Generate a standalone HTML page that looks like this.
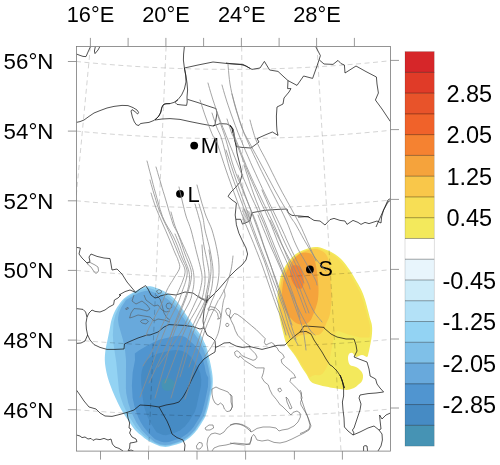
<!DOCTYPE html>
<html><head><meta charset="utf-8"><title>Map</title>
<style>
html,body{margin:0;padding:0;background:#fff;}
body{width:500px;height:465px;overflow:hidden;}
svg{display:block;}
text{font-family:"Liberation Sans",sans-serif;fill:#000;}
</style></head><body>
<svg width="500" height="465" viewBox="0 0 500 465">
<rect width="500" height="465" fill="#fff"/>
<defs><clipPath id="fc"><rect x="76.4" y="46.4" width="314.1" height="404.7"/></clipPath></defs>
<g clip-path="url(#fc)">
<path d="M148 286.3 L149.34 286.24 L150.56 286.32 L151.75 286.52 L153 286.8 L154.34 287.18 L155.72 287.68 L157.11 288.23 L158.5 288.8 L159.88 289.37 L161.25 289.97 L162.62 290.61 L164 291.3 L165.39 292.04 L166.78 292.83 L168.16 293.68 L169.5 294.6 L170.8 295.61 L172.08 296.71 L173.32 297.85 L174.5 299 L175.62 300.16 L176.68 301.35 L177.7 302.56 L178.7 303.8 L179.69 305.06 L180.64 306.36 L181.58 307.67 L182.5 309 L183.4 310.37 L184.27 311.76 L185.13 313.15 L186 314.5 L186.87 315.77 L187.73 317 L188.6 318.23 L189.5 319.5 L190.43 320.85 L191.39 322.25 L192.35 323.65 L193.3 325 L194.23 326.29 L195.16 327.53 L196.08 328.76 L197 330 L197.92 331.24 L198.85 332.47 L199.75 333.71 L200.6 335 L201.38 336.34 L202.12 337.72 L202.82 339.11 L203.5 340.5 L204.17 341.88 L204.82 343.25 L205.44 344.62 L206 346 L206.49 347.38 L206.93 348.75 L207.33 350.12 L207.7 351.5 L208.03 352.88 L208.32 354.25 L208.6 355.62 L208.9 357 L209.22 358.38 L209.56 359.75 L209.89 361.12 L210.2 362.5 L210.49 363.86 L210.77 365.22 L211.04 366.59 L211.3 368 L211.57 369.46 L211.84 370.97 L212.09 372.49 L212.3 374 L212.48 375.5 L212.63 377 L212.74 378.5 L212.8 380 L212.81 381.52 L212.78 383.06 L212.71 384.57 L212.6 386 L212.45 387.32 L212.26 388.56 L212.04 389.77 L211.8 391 L211.53 392.22 L211.23 393.43 L210.91 394.67 L210.6 396 L210.31 397.44 L210.04 398.96 L209.74 400.54 L209.4 402.2 L209.01 403.95 L208.58 405.79 L208.11 407.66 L207.6 409.5 L207.08 411.31 L206.55 413.11 L205.94 414.9 L205.2 416.7 L204.29 418.5 L203.26 420.3 L202.14 422.1 L201 423.9 L199.85 425.73 L198.66 427.57 L197.42 429.38 L196.1 431.1 L194.71 432.73 L193.24 434.3 L191.71 435.79 L190.1 437.2 L188.41 438.53 L186.65 439.79 L184.81 440.96 L182.9 442 L180.86 442.9 L178.71 443.69 L176.55 444.38 L174.5 445 L172.6 445.59 L170.77 446.12 L168.99 446.55 L167.2 446.8 L165.39 446.88 L163.58 446.8 L161.78 446.58 L160 446.2 L158.21 445.62 L156.43 444.86 L154.67 444.02 L153 443.2 L151.41 442.43 L149.88 441.66 L148.41 440.86 L147 440 L145.73 439.1 L144.56 438.18 L143.37 437.16 L142 436 L140.39 434.73 L138.62 433.38 L136.8 431.83 L135 430 L133.24 427.78 L131.47 425.25 L129.71 422.59 L128 420 L126.3 417.5 L124.62 415 L123.01 412.5 L121.5 410 L120.12 407.48 L118.84 404.94 L117.64 402.43 L116.5 400 L115.43 397.73 L114.44 395.56 L113.48 393.37 L112.5 391 L111.46 388.37 L110.41 385.56 L109.39 382.73 L108.5 380 L107.74 377.43 L107.08 374.94 L106.5 372.48 L106 370 L105.56 367.5 L105.2 365 L104.94 362.5 L104.8 360 L104.81 357.5 L104.95 355 L105.19 352.5 L105.5 350 L105.91 347.5 L106.42 345 L106.97 342.5 L107.5 340 L108 337.5 L108.5 335 L109 332.5 L109.5 330 L109.95 327.5 L110.38 325 L110.86 322.5 L111.5 320 L112.29 317.5 L113.19 315 L114.24 312.5 L115.5 310 L117.07 307.37 L118.91 304.66 L120.79 302.11 L122.5 300 L123.95 298.48 L125.25 297.38 L126.55 296.46 L128 295.5 L129.66 294.45 L131.44 293.44 L133.25 292.45 L135 291.5 L136.66 290.55 L138.28 289.61 L139.89 288.74 L141.5 288 L143.16 287.4 L144.84 286.9 L146.48 286.53 Z" fill="#93d3f3"/>
<path d="M124.75 299.12 L118.83 307.5 L115.41 315 L113.55 322.5 L112.84 335 L113.27 342.5 L116.29 362.5 L119 391 L120.73 397.73 L123.31 404.94 L128.06 415 L135.9 427.5 L143.22 435 L151.35 441.28 L158.56 444.68 L161.95 445.59 L165.39 445.88 L170.51 445.15 L180.49 441.97 L184.3 440.1 L187.81 437.73 L191.03 435.06 L195.32 430.47 L203.41 418.03 L205 414.55 L207.14 407.4 L211.06 389.58 L211.8 382 L211.3 376 L209.77 367.22 L206.7 353.5 L205 348 L199.6 337 L191.35 325.65 L178.69 307.06 L172.32 299.85 L168.5 296.6 L165.78 294.83 L160.25 291.97 L153.34 289.18 L149.56 288.32 L147 288.3 L142.16 289.4 L138.89 290.74 L128.66 296.45 Z" fill="#7fc0e8"/>
<path d="M126 300 L121.12 307.5 L119.12 312.5 L118.12 317.5 L118 320 L118.69 325 L123 340 L125 350 L126 360 L125.89 388.37 L126.23 393.37 L128.11 402.43 L131.47 412.5 L136.39 422.5 L141.5 430 L148.96 437.5 L154.96 442.16 L160.47 444.46 L165.39 445.08 L170.31 444.38 L180.19 441.23 L183.9 439.41 L187.33 437.09 L190.49 434.47 L194.7 429.97 L202.7 417.65 L204.25 414.27 L206.37 407.2 L210.48 388.26 L210.74 383 L210.09 376.99 L208.49 368.36 L205.7 356 L204 350.5 L198.6 339.5 L190.35 328.15 L177.69 309.56 L171.32 302.35 L167.5 299.1 L164.78 297.33 L159.25 294.47 L152.34 291.68 L148.56 290.82 L146 290.8 L141.16 291.9 L137.89 293.24 Z" fill="#68a9dc"/>
<path d="M155.11 439.22 L161.17 441.85 L163.95 442.31 L166.79 442.31 L169.62 441.77 L180.91 437.96 L187.22 433.74 L191.35 429.73 L193.78 426.74 L200.33 416.37 L202.26 411.75 L205 401.26 L207.99 386.72 L208.25 378.75 L208.12 377.14 L206.85 375.21 L205.59 371.58 L204.6 365.8 L202 357 L198.5 350 L194.16 344.68 L186.88 338.15 L185 337 L181.66 335.86 L175.66 335.93 L160 339.5 L153.2 342.42 L146.88 345.72 L139.28 350.22 L134.82 353.52 L135 360 L132.66 372.48 L131.88 385.56 L132.62 397.73 L134.73 407.48 L138.29 417.5 L140.87 422.5 L144.07 427.5 L148.16 432.5 L153.14 437.5 Z" fill="#5095d0"/>
<path d="M156.7 432.21 L162.98 435.08 L166.15 435.34 L174.98 432.81 L180.21 430.26 L185.03 426.25 L189.09 421.2 L194.73 411.91 L196.53 406.38 L201.05 385.8 L201.26 379.15 L200.42 373.62 L198.07 368.16 L193.64 360.66 L191 357 L186.59 352.98 L181.65 350.64 L176.07 349.94 L169.6 350.7 L158 353.5 L151.34 356.35 L147 360 L145.09 362.5 L143.75 365 L142 370 L141.12 374.94 L141.11 382.73 L142.68 397.73 L144.34 407.48 L146.75 415 L150.29 422.5 L155 430 Z" fill="#468bc4"/>
<path d="M162 381 L162.7 380.06 L163.69 379.34 L164.84 378.83 L166 378.5 L167.21 378.34 L168.53 378.38 L169.83 378.59 L171 379 L172.07 379.64 L173.09 380.5 L173.94 381.48 L174.5 382.5 L174.74 383.58 L174.72 384.75 L174.46 385.92 L174 387 L173.27 388.03 L172.28 389.03 L171.15 389.89 L170 390.5 L168.77 390.83 L167.44 390.94 L166.13 390.83 L165 390.5 L164.04 389.93 L163.19 389.12 L162.49 388.13 L162 387 L161.7 385.59 L161.56 383.94 L161.65 382.31 Z" fill="#4693b4"/>
<path d="M315.3 247 L317.8 247.11 L320.12 247.58 L322.4 248.31 L324.8 249.2 L327.45 250.28 L330.24 251.59 L332.96 253.03 L335.4 254.5 L337.48 255.96 L339.32 257.47 L341.02 259.07 L342.7 260.8 L344.37 262.71 L345.98 264.76 L347.52 266.88 L349 269 L350.4 271.1 L351.74 273.23 L353.03 275.37 L354.3 277.5 L355.6 279.7 L356.91 281.94 L358.13 284.09 L359.2 286 L360.04 287.52 L360.72 288.78 L361.34 290.01 L362 291.5 L362.75 293.34 L363.53 295.37 L364.29 297.49 L365 299.6 L365.62 301.65 L366.18 303.7 L366.73 305.8 L367.3 308 L367.92 310.37 L368.56 312.86 L369.19 315.34 L369.8 317.7 L370.43 319.84 L371.07 321.84 L371.63 323.85 L372 326 L372.16 328.34 L372.15 330.78 L372.02 333.29 L371.8 335.8 L371.46 338.4 L370.98 341.08 L370.47 343.67 L370 346 L369.6 348.05 L369.23 349.89 L368.87 351.54 L368.5 353 L368.21 354.35 L367.97 355.56 L367.62 356.49 L367 357 L366.02 356.83 L364.78 356.12 L363.4 355.36 L362 355 L360.51 355.36 L358.91 356.12 L357.35 356.83 L356 357 L354.95 356.3 L354.09 355.06 L353.32 353.79 L352.5 353 L351.57 352.8 L350.59 352.94 L349.7 353.35 L349 354 L348.5 354.95 L348.16 356.19 L347.98 357.59 L348 359 L348.2 360.52 L348.56 362.19 L349.15 363.76 L350 365 L351.24 365.73 L352.81 366.12 L354.48 366.45 L356 367 L357.39 367.85 L358.75 368.84 L359.98 369.92 L361 371 L361.78 372.07 L362.38 373.16 L362.78 374.29 L363 375.5 L363.03 376.84 L362.88 378.28 L362.53 379.71 L362 381 L361.21 382.13 L360.19 383.16 L359.07 384.11 L358 385 L357.05 385.85 L356.12 386.64 L355.14 387.36 L354 388 L352.64 388.59 L351.12 389.11 L349.55 389.53 L348 389.8 L346.57 389.88 L345.18 389.8 L343.7 389.62 L342 389.4 L339.94 389.12 L337.61 388.75 L335.28 388.36 L333.2 388 L331.46 387.69 L329.92 387.39 L328.47 387.1 L327 386.8 L325.51 386.52 L324.05 386.26 L322.57 385.97 L321 385.6 L319.24 385.12 L317.36 384.57 L315.54 383.99 L314 383.4 L312.84 382.9 L311.94 382.45 L311.14 381.87 L310.3 381 L309.42 379.74 L308.57 378.21 L307.68 376.52 L306.7 374.8 L305.59 373.08 L304.38 371.29 L303.14 369.44 L301.9 367.5 L300.68 365.43 L299.45 363.24 L298.22 361.05 L297 359 L295.79 357.1 L294.59 355.3 L293.4 353.57 L292.2 351.9 L290.94 350.3 L289.65 348.77 L288.43 347.28 L287.4 345.8 L286.62 344.36 L286.01 342.96 L285.5 341.53 L285 340 L284.51 338.36 L284.07 336.64 L283.65 334.85 L283.2 333 L282.71 331.09 L282.2 329.12 L281.69 327.09 L281.2 325 L280.73 322.87 L280.26 320.69 L279.82 318.41 L279.4 316 L279 313.34 L278.62 310.5 L278.28 307.66 L278 305 L277.77 302.61 L277.59 300.38 L277.49 298.2 L277.5 296 L277.65 293.75 L277.91 291.5 L278.25 289.25 L278.6 287 L278.95 284.74 L279.32 282.47 L279.76 280.21 L280.3 278 L280.95 275.84 L281.68 273.72 L282.52 271.61 L283.5 269.5 L284.65 267.33 L285.95 265.12 L287.35 262.98 L288.8 261 L290.28 259.21 L291.81 257.56 L293.43 256.02 L295.2 254.6 L297.08 253.29 L299.07 252.09 L301.22 251 L303.6 250 L306.34 249.02 L309.38 248.07 L312.45 247.35 Z" fill="#f3e95c"/>
<path d="M309.67 249.13 L301.68 252 L295.86 255.48 L291.11 259.94 L286.88 265.7 L283.53 272.05 L281.36 278.29 L279 291.65 L278.59 298.18 L279.37 307.54 L280.9 318.21 L285.14 336.38 L287.03 342.56 L288.34 345.22 L296.72 356.51 L309.49 377.6 L313 375.5 L315.14 375.11 L319.23 375.24 L321 374.8 L322.49 373.74 L324.92 370.6 L327.04 366.52 L328.86 361.5 L330.18 356.59 L333.69 337.72 L335.17 333.68 L336.64 331.42 L338 331 L339.99 331.38 L348 334.6 L360 337.6 L369.63 337.58 L370.16 328.84 L369.63 324.35 L363.62 302.15 L360 292 L351.03 275.87 L343.98 265.26 L337.32 257.97 L333.4 255 L328.24 252.09 L320.69 248.92 L317.67 248.21 L315.34 248.1 Z" fill="#f7de55"/>
<path d="M303 252 L305.54 251.06 L308.44 250.12 L311.37 249.38 L314 249 L316.28 249.08 L318.38 249.5 L320.28 250.17 L322 251 L323.52 251.95 L324.84 253.06 L326 254.4 L327 256 L327.84 257.83 L328.5 259.88 L329.04 262.23 L329.5 265 L329.86 268.33 L330.09 272.12 L330.29 276.11 L330.5 280 L330.79 283.84 L331.09 287.75 L331.36 291.53 L331.5 295 L331.5 298.05 L331.41 300.81 L331.23 303.41 L331 306 L330.74 308.62 L330.44 311.19 L330.04 313.66 L329.5 316 L328.75 318.16 L327.84 320.19 L326.89 322.12 L326 324 L325.26 325.89 L324.59 327.75 L323.88 329.48 L323 331 L321.96 332.33 L320.81 333.5 L319.51 334.42 L318 335 L316.26 335.04 L314.31 334.66 L312.21 334.19 L310 334 L307.55 334.16 L304.88 334.5 L302.27 334.96 L300 335.5 L298.21 336.29 L296.72 337.28 L295.37 338.14 L294 338.5 L292.55 338.25 L291.12 337.59 L289.76 336.64 L288.5 335.5 L287.35 334.11 L286.29 332.44 L285.33 330.67 L284.5 329 L283.83 327.51 L283.3 326.09 L282.85 324.63 L282.4 323 L281.95 321.19 L281.53 319.25 L281.15 317.19 L280.8 315 L280.5 312.62 L280.23 310.06 L280 307.48 L279.8 305 L279.6 302.67 L279.43 300.41 L279.31 298.19 L279.3 296 L279.43 293.85 L279.66 291.75 L279.97 289.65 L280.3 287.5 L280.65 285.27 L281.03 283 L281.47 280.73 L282 278.5 L282.61 276.33 L283.29 274.19 L284.08 272.08 L285 270 L286.09 267.92 L287.31 265.84 L288.63 263.85 L290 262 L291.41 260.31 L292.88 258.75 L294.41 257.31 L296 256 L297.59 254.84 L299.19 253.81 L300.95 252.88 Z" fill="#f9c74a"/>
<path d="M301.6 253 L303.33 252.72 L305.34 252.62 L307.32 252.72 L309 253 L310.27 253.44 L311.31 254.05 L312.19 254.88 L313 256 L313.74 257.38 L314.38 259 L314.95 260.92 L315.5 263.2 L316.04 265.97 L316.54 269.16 L317 272.52 L317.4 275.8 L317.77 279.02 L318.1 282.28 L318.36 285.48 L318.5 288.5 L318.52 291.34 L318.44 294.04 L318.27 296.6 L318 299 L317.63 301.18 L317.16 303.16 L316.61 305.06 L316 307 L315.32 309.05 L314.56 311.12 L313.77 313.14 L313 315 L312.32 316.7 L311.69 318.28 L310.96 319.72 L310 321 L308.75 322.16 L307.28 323.2 L305.68 324.01 L304 324.5 L302.2 324.63 L300.25 324.45 L298.3 324 L296.5 323.3 L294.87 322.3 L293.34 321.01 L291.89 319.54 L290.5 318 L289.12 316.39 L287.78 314.67 L286.55 312.86 L285.5 311 L284.66 309.07 L284 307.06 L283.46 305.02 L283 303 L282.61 301 L282.31 299 L282.11 297 L282 295 L282 293.02 L282.09 291.06 L282.27 289.07 L282.5 287 L282.76 284.81 L283.06 282.53 L283.46 280.24 L284 278 L284.7 275.84 L285.53 273.72 L286.47 271.61 L287.5 269.5 L288.66 267.29 L289.94 265.03 L291.25 262.88 L292.5 261 L293.66 259.46 L294.78 258.16 L295.88 257.03 L297 256 L298.08 255.04 L299.12 254.19 L300.25 253.49 Z" fill="#f5a33c"/>
<path d="M293.2 265.3 L294.56 265.13 L296.29 265.19 L298.05 265.59 L299.5 266.4 L300.57 267.76 L301.43 269.59 L302.13 271.65 L302.7 273.7 L303.18 275.79 L303.53 278.01 L303.72 280.2 L303.7 282.2 L303.47 284.1 L303.04 285.95 L302.42 287.5 L301.6 288.5 L300.5 288.87 L299.14 288.74 L297.71 288.21 L296.4 287.4 L295.21 286.22 L294.06 284.64 L293 282.87 L292.1 281.1 L291.35 279.28 L290.72 277.33 L290.26 275.42 L290 273.7 L290 272.2 L290.23 270.84 L290.59 269.61 L291 268.5 L291.37 267.46 L291.77 266.51 L292.33 265.75 Z" fill="#f58231"/>
<g fill="none" stroke="#000" stroke-opacity="0.22" stroke-width="0.8" stroke-dasharray="5 3.5">
<path d="M90.4 46.5 L52.0818 451"/>
<path d="M166.1 46.5 L148.605 451"/>
<path d="M241.7 46.5 L245.001 451"/>
<path d="M317 46.5 L341.014 451"/>
<path d="M76 61.45 L91 62.92 L106 64.25 L121 65.42 L136 66.44 L151 67.3 L166 68.02 L181 68.58 L196 69 L211 69.26 L226 69.37 L241 69.34 L256 69.15 L271 68.81 L286 68.32 L301 67.68 L316 66.88 L331 65.94 L346 64.84 L361 63.6 L376 62.2 L391 60.64"/>
<path d="M76 131.05 L91 132.46 L106 133.72 L121 134.84 L136 135.82 L151 136.64 L166 137.33 L181 137.87 L196 138.26 L211 138.52 L226 138.62 L241 138.59 L256 138.41 L271 138.08 L286 137.61 L301 137 L316 136.24 L331 135.34 L346 134.29 L361 133.1 L376 131.76 L391 130.28"/>
<path d="M76 200.75 L91 202.1 L106 203.31 L121 204.38 L136 205.31 L151 206.11 L166 206.76 L181 207.28 L196 207.66 L211 207.9 L226 208 L241 207.97 L256 207.79 L271 207.48 L286 207.04 L301 206.45 L316 205.72 L331 204.86 L346 203.86 L361 202.72 L376 201.44 L391 200.02"/>
<path d="M76 270.35 L91 271.65 L106 272.81 L121 273.84 L136 274.73 L151 275.49 L166 276.12 L181 276.61 L196 276.98 L211 277.21 L226 277.31 L241 277.27 L256 277.11 L271 276.81 L286 276.38 L301 275.82 L316 275.12 L331 274.29 L346 273.33 L361 272.24 L376 271.01 L391 269.65"/>
<path d="M76 340.06 L91 341.3 L106 342.41 L121 343.4 L136 344.26 L151 344.99 L166 345.59 L181 346.07 L196 346.42 L211 346.64 L226 346.74 L241 346.7 L256 346.54 L271 346.26 L286 345.84 L301 345.3 L316 344.64 L331 343.84 L346 342.92 L361 341.87 L376 340.69 L391 339.38"/>
<path d="M76 409.66 L91 410.85 L106 411.93 L121 412.88 L136 413.7 L151 414.4 L166 414.99 L181 415.44 L196 415.78 L211 415.99 L226 416.08 L241 416.05 L256 415.9 L271 415.63 L286 415.23 L301 414.71 L316 414.06 L331 413.3 L346 412.41 L361 411.4 L376 410.26 L391 409.01"/>
</g>
<g fill="none" stroke="#555" stroke-width="0.6" stroke-linejoin="round">
<path d="M87 263 L90 262.4 L95 265 L98 267 L98.6 271 L96 273.6 L93.6 271 L91 267 L88.4 265 Z"/>
<path d="M134 295 L132 301 L136 304 L142 301 L147 305 L150 309 L147 311 L140 309 L134 308.6 L131 313 L129.6 318 L133 317 L138 315 L144 316 L150 317 L154 321 L158 319 L164 320 L170 322"/>
<path d="M142 320 L146 319.4 L148.4 321.4 L146 324 L142 323 L140.4 321.4 Z"/>
<path d="M125.6 308.6 L128 307.4 L128.4 308.6 L126 309.6 Z"/>
<path d="M144 295 L146 300 L150 303 L154 306 L158 305 L162 310 L166 312 L170 311"/>
<path d="M166 306 L167 303.6 L169.4 303 L171.6 304.6 L171.6 307.4 L169.6 309 L167.2 308.4 Z"/>
<path d="M156 295 L160 299 L162 305 L164 313 L167 318 L170 320"/>
<path d="M212 389 L216 387 L220 389 L224 390.4 L228 392 L231 396 L231 402 L232.4 407 L230 411 L227 411.6 L224.4 409 L223 405 L220.4 403 L218 405 L215 403 L213 399 L212 394 Z"/>
<path d="M205 428 L209 425 L213 425 L213.6 428 L210 430 L206 430 Z"/>
<path d="M196.4 446 L199 442.4 L202 443 L202.4 446 L200 449 L197 449 Z"/>
<path d="M208 451 L207 444 L208 438 L211 434 L215 433 L220 434.4 L224 432 L227 428 L231 425 L236 423.6 L242 424.4 L247 427 L250 429 L251 432"/>
<path d="M212 451 L214 448 L219 446 L226 445 L234 443 L242 443.6 L250 444.4 L251.6 437"/>
<path d="M286 397 L288 399 L292 408 L290 409 L287 402 Z"/>
<path d="M230 394 L232 396 L232.4 406 L231 410 L230 411"/>
<path d="M300 390 L301.6 393 L301 398 L303 404 L305 410 L308 418 L310 425 L309 429 L304 432 L300 433.6"/>
<path d="M156.4 291 L159 289.6 L161.6 291 L161 293 L158 293.6 Z"/>
<path d="M229.19 315.97 L227.26 315.16 L225.65 311.13 L226.45 308.71 L228.87 308.23 L230.48 310.32 L230.16 313.55 L229.19 315.97 L230.81 318.39 L232.9 315.16 L234.52 313.55 L237.26 314.35 L241.77 317.58 L246.61 321.61 L251.45 325.65 L256.29 329.68 L261.13 334.52 L265.16 338.55 L264.35 342.58 L265.97 345 L269.19 343.39 L271.61 342.58 L274.03 344.19 L274.68 346.13 L277.1 347.74 L278.71 350.97 L282.74 354.19 L284.35 357.42 L281.13 359.84 L281.94 363.06 L285.16 366.29 L290 370.32 L294.03 374.35 L295.65 377.58 L290.81 378.39 L290 381.61 L293.23 384.84 L297.26 388.87 L300.48 392.9 L302.1 397.74 L300.48 402.58 L301 405 L304 410 L307 415 L309 420 L311 426 L309 430 L304 433 L298 436 L292 439 L286 441.6 L280 443 L274 442.4 L268 440 L262 441 L257 440 L255 436 L253.6 434.4 L251.6 437 L251 441 L249 444 L244 445 L238 444.4 L230 443"/>
<path d="M229.19 315.97 L231.29 320.81 L233.71 325.65 L235.32 330.48 L237.74 335.32 L240.97 338.55 L244.19 341.77 L247.42 344.19 L249.84 345.81"/>
<path d="M249.84 345.81 L249.84 348.23 L252.26 350.65 L255.48 353.87 L257.1 357.1 L255.48 359.52 L253.06 360.32 L249.03 358.71 L245 357.1 L241.77 355.48 L239.35 352.26 L236.94 350.65 L234.52 352.26 L235.32 355.48 L238.55 357.9 L240 355.81 L244.84 360.65 L251.29 364.68 L256.13 367.9 L260.16 367.9 L264.19 367.9 L263.39 372.74 L261.77 377.58 L264.19 381.61 L268.23 384.84 L269.84 389.68 L272.26 394.52 L276.29 399.35 L280.32 405 L282 406 L285 409 L288 412 L291 415 L293 412.4 L297 411 L300 413 L300.4 417 L298 422 L294 426 L288 429 L282 430 L279 431 L276 428 L270 427 L263 427 L257 428.4 L253 431 L251 432 L248 429 L244 426 L239 424 L234 423.6 L230 425"/>
<path d="M225.65 324.84 L226.45 323.39 L228.06 323.39 L229.03 324.84 L228.06 326.45 L226.45 326.45 Z"/>
<path d="M207.9 308.71 L210.32 306.61 L215.16 307.58 L219.19 311.13 L220.81 315.16 L220 318.39 L217.58 319.19 L218.39 317.58 L217.58 313.55 L215.16 310.32 L211.94 309.19 L208.71 310.32 Z"/>
<path d="M198.23 295 L201.45 298.23 L207.1 299.84 L211.13 296.61 L212.74 295"/>
<path d="M277.9 388.87 L280.32 388.06 L281.61 390.48 L280 392.1 L278.39 390.97 Z"/>
</g>
<g fill="none" stroke="#1a1a1a" stroke-width="0.75" stroke-linejoin="round">
<path d="M76.4 54 L80 55.4 L83 56.4 L86 56.6 L88 52 L90 47.6 L90.6 46.4"/>
<path d="M95.4 46.4 L94.4 51 L95 53.6 L98 50 L100 46.4"/>
<path d="M76.4 122.4 L80 121.6 L84 120 L89 116.4 L94 113 L100 110.6 L107 108 L114 106.4 L122 105.4 L128 105.6 L133 107.6 L137 110 L138.6 112.4 L137.6 114 L135 111.6 L132 109.6 L131 111 L132.4 117 L134.4 122 L136.6 125 L139 125.4 L140.4 123.6 L144 123 L149 122.4 L154 120.4 L158 117 L160.4 113 L161.6 108 L163 105 L166 103.6 L170 103.6"/>
<path d="M184.4 46.4 L183.6 54 L183.4 60 L184.4 68 L185.6 75 L186 82 L184.4 89 L181.6 95 L178 99.6 L174 102.4 L170 103.6 L164 104 L162 107 L161 112 L159 116 L155 120"/>
<path d="M184.4 68 L186 76 L187 83 L187.6 90 L187 97 L187.2 102 L186.6 105.4 L182 105 L177 104.4 L175 102.4 L178 99.6"/>
<path d="M184.4 68 L198 65 L213 62 L228 63.6 L241 64.6 L246 66 L250 68.4"/>
<path d="M187.6 99.4 L198 102.6 L208 106 L216 108.6 L217 113 L216 119 L215 125 L213 126"/>
<path d="M155 120 L162 119 L170 118.6 L180 119.4 L190 121.6 L202 124 L213 126 L220 123.6 L227 124 L231 126 L233 129 L232 133"/>
<path d="M226 63 L230 63.6 L236 64 L243 64.4 L252 69.4 L260 68 L264.4 61.4 L269.6 70 L278 71.4 L284 77 L288 80.6 L297 85.4 L303.6 76 L312.6 78.4 L317 66 L319 60 L320.4 55.6 L318 51 L315.6 46.4"/>
<path d="M288 80.6 L287.6 88.6 L291 88.6 L289 92 L284 98 L283 104 L277 107 L276.4 116 L276.6 125"/>
<path d="M319.4 60 L324 64 L333 64.4 L338 60.4 L341 63.6 L344.4 65 L345 73 L356 66 L366 71.6 L376.4 77 L377 84 L378.4 93 L375.4 100 L382 109 L390.4 121.6"/>
<path d="M276.6 125 L277 131 L278 135.4 L272.4 132 L266 134.6 L257 138.6 L259 142 L251 148 L242 147.4 L236.4 146.6 L235 141 L234 133 L233 129 L230 126"/>
<path d="M230 125 L232 129 L233.6 135 L235 141 L236 145 L237 153 L239 161 L241 169 L242 175 L240 182 L236 187 L231 192 L228 196.4 L232 200 L236.4 203 L235.8 209 L235.2 215 L235.8 219.3 L236.4 224.8 L238.9 233.2 L242 240 L246 248 L247.6 254 L246 260 L242 265 L236 270 L230 276 L224 283 L218 290 L212 296 L208 300 L206 303"/>
<path d="M235.8 219.3 L240.7 219.3 L242.5 224.2 L249.7 221.1 L252.1 212.7 L264.8 210.3 L278 209.4 L287 209 L288.4 213 L292 215.4 L300 216 L309 217 L310 218"/>
<path d="M298 217 L300 217 L308 216.6 L314 220.4 L320 221 L325 225 L330 219.6 L334 218.4 L340 220.4 L345 221 L347 224.4 L353 220.4 L358 222.4 L361 224.4 L365 222.4 L369 223.6 L377 221 L381 223 L381.6 217 L383.6 210 L388 202 L390.4 200.4"/>
<path d="M76.4 247.4 L80.4 248 L79 254 L82 258 L87 263 L90 261.6 L89 257 L91 254 L97 256.4 L104 258 L110 258.6 L111 264 L112 270 L117 269 L122 274 L127 282 L132 288 L135.6 292.4"/>
<path d="M135.6 292.4 L140 289 L145.6 285.6 L148 289 L151 295 L155 298 L159 297 L160 296 L168 294 L176 295 L185 292 L193 293 L200 298 L206 301 L208 300"/>
<path d="M135.6 292.4 L130 290 L125 291.6 L119 295 L121 295 L118 298 L114.4 300 L113.6 304.6 L109 307 L105 310 L100 312 L95 311.4 L92 310 L89 313 L87 317 L86 323 L86.4 329 L87.6 335 L90 340 L94 344.6 L100 347.4 L107 349.4 L115 349.4 L124 349 L124.4 344 L130 341.4 L138 338 L147 335 L150 335 L158 332 L164 327 L169 324.6 L176 325 L184 325.4 L193 326.6 L200 329 L204 328"/>
<path d="M76.4 308.6 L83 309.4 L85.6 312 L87 317"/>
<path d="M87.6 335 L85 341 L81 343 L76.4 343.4"/>
<path d="M208 295 L206 303 L204 311 L203 321 L204 328 L207 335 L212 338 L215 341 L215.6 347 L215 352 L210 355 L204 359 L199 365 L195 373 L191 381 L188 388 L187 390 L183 397 L179 402 L174 403.6 L166 405 L159 407"/>
<path d="M215.6 347.4 L219 346 L224 343 L230 342.6 L230 343 L236 346 L242 347.4 L250 346.6 L256 348 L262 349.4 L270 347.4 L277 345.4 L285 345 L290 340 L296 335 L300 332 L304 326 L314 326.6 L324 327.4 L324 328 L331 334 L337 337 L346 339 L354 339 L356 345 L357 351 L354 357 L360 359.4 L367 362 L369 369 L370 375 L370 376 L375.6 379 L377 384 L380 388 L383.6 392 L376 393 L368 393.6 L360 395 L359 398 L361 404 L360 410 L358 416 L356 422 L354 428 L352.4 430 L354 433 L353 435 L360 432 L368 428 L374 426 L379 430 L381 429 L380 420 L379.6 415 L382 419 L386 415 L390.4 413"/>
<path d="M300 332 L306 331.4 L311 334 L314 340 L318 346 L322 352 L326 359 L330 365 L332 366 L337 371 L341 377 L343 383 L344.4 388 L340 375 L342.4 381 L343.6 388 L343.6 396 L342.4 402 L343 410 L344 418 L344.4 427 L348 431 L353 435"/>
<path d="M379 430 L382 434 L382.4 440 L381 446 L378 451"/>
<path d="M363.6 451 L363.6 446.4 L365 445.6 L367 446 L367.6 451"/>
<path d="M76.4 390 L80 395 L84 401 L89 407 L96 409 L100 413 L105 416 L112 416.4 L120 414.4 L127 412.4 L134 410 L140 405 L150 405.6 L159 407 L159 407"/>
<path d="M159 407 L163 414 L167 421 L170 428 L172 434 L177 437.6 L183 440 L185 445 L184.4 451"/>
<path d="M127 412.4 L128 418 L129.6 423 L129 428 L131 429 L129.6 433 L132 437 L136 439 L137 441.6 L134 442.4 L130 443 L129.6 448 L128 451"/>
<path d="M76.4 435 L80 436 L82 437.6 L85 437 L88 439 L91 438.4 L93 440.4 L96 439 L100 439.6 L104 438.4 L108 440 L111 439 L112.4 444 L115 447 L119 448.4 L123 451"/>
<path d="M128 451 L131 450 L133.6 451"/>
<path d="M390.4 198.6 L388 200 L380 218 L376 227"/>
</g>
</g>
<circle cx="194.2" cy="145.6" r="3.9" fill="#000"/>
<text x="200.8" y="153.4" font-size="22">M</text>
<circle cx="180" cy="193.8" r="3.9" fill="#000"/>
<text x="187.5" y="202.2" font-size="22">L</text>
<circle cx="309.9" cy="269.4" r="3.9" fill="#000"/>
<text x="318.2" y="275.8" font-size="22">S</text>
<g fill="none" stroke="#777" stroke-width="0.5" clip-path="url(#fc)">
<path d="M242.32 208.03 L242.47 207.59"/>
<path d="M242.49 212.02 L243.75 208.24"/>
<path d="M242.66 216.02 L245.03 208.9"/>
<path d="M242.83 220.01 L246.32 209.55"/>
<path d="M243 224 L247.6 210.2"/>
<path d="M244.75 223.24 L248.88 210.86"/>
<path d="M246.51 222.48 L250.16 211.51"/>
<path d="M248.26 221.72 L251.44 212.17"/>
</g>
<g fill="none" stroke="#8e8e8e" stroke-width="0.8" stroke-linejoin="round" stroke-linecap="round" clip-path="url(#fc)">
<path d="M200 100 L200.8 102.4 L201.9 105.9 L203.2 109.9 L204.6 114.1 L206 118 L207.4 121.8 L208.9 125.9 L210.4 129.8 L211.8 133.3 L213 136 L213.7 137.3 L214.2 137.4 L214.5 137.2 L215 137.8 L216 140 L217.6 144.4 L219.5 150.2 L221.7 156.9 L223.9 163.7 L226 170 L228 175.8 L230.1 181.6 L232.1 187.3 L234.1 192.8 L236 198 L237.8 203 L239.5 207.8 L241.2 212.4 L242.7 216.5 L244 220 L245 222.7 L245.7 224.5 L246.4 226.1 L247.1 227.7 L248 230 L249.2 232.9 L250.6 236.2 L252.1 239.8 L253.6 243.4 L255 247 L256.4 250.5 L257.8 254 L259.2 257.6 L260.6 261.3 L262 265 L263.4 268.9 L264.8 272.9 L266.2 276.9 L267.6 281 L269 285 L270.4 289.1 L271.9 293.3 L273.3 297.5 L274.7 301.4 L276 305 L277.1 308 L278.1 310.5 L279.1 312.8 L280 315.3 L281 318 L282.1 321.4 L283.2 325.3 L284.4 329.2 L285.3 332.6 L286 335"/>
<path d="M212 113 L212.7 115.1 L213.6 118.1 L214.8 121.5 L215.9 125 L217 128 L218 130.3 L218.9 132.2 L219.8 134 L220.8 136.5 L222 140 L223.4 144.9 L224.9 150.8 L226.5 157.3 L228.2 163.8 L230 170 L231.9 175.8 L233.9 181.4 L235.9 187 L238 192.6 L240 198 L242 203.4 L244.1 208.8 L246.1 214.1 L248.1 219.2 L250 224 L251.7 228.6 L253.4 232.9 L255 237.1 L256.5 241.1 L258 245 L259.5 248.7 L260.9 252.2 L262.2 255.7 L263.6 259.2 L265 263 L266.4 267.2 L267.8 271.7 L269.3 276.3 L270.7 280.8 L272 285 L273.3 288.9 L274.5 292.6 L275.7 296.2 L276.9 299.7 L278 303 L279 306.1 L280 309 L280.9 311.8 L281.9 314.7 L283 318 L284.4 322 L286 326.6 L287.6 331.2 L289 335.2 L290 338"/>
<path d="M217 113 L217.7 115.1 L218.7 118.1 L219.8 121.5 L221 125 L222 128 L222.8 130.3 L223.5 132.2 L224.2 134.2 L225 136.6 L226 140 L227.3 144.6 L228.8 150 L230.4 156 L232.1 162.1 L234 168 L236 173.6 L238.2 179.3 L240.5 184.9 L242.8 190.5 L245 196 L247.3 201.4 L249.6 206.8 L251.9 212.1 L254.1 217.2 L256 222 L257.7 226.5 L259.1 230.8 L260.4 234.9 L261.7 238.9 L263 243 L264.4 247 L265.8 251 L267.2 254.9 L268.6 258.9 L270 263 L271.4 267.3 L272.8 271.8 L274.3 276.4 L275.7 280.8 L277 285 L278.3 288.9 L279.5 292.7 L280.7 296.4 L281.9 299.8 L283 303 L284 305.7 L284.9 308 L285.8 310.2 L286.8 312.8 L288 316 L289.5 320.5 L291.4 326 L293.2 331.6 L294.9 336.6 L296 340"/>
<path d="M208 83 L208.6 85.3 L209.5 88.4 L210.6 92.2 L211.8 96.1 L213 100 L214.3 103.8 L215.6 107.8 L217 111.9 L218.5 116 L220 120 L221.5 123.8 L222.9 127.5 L224.5 131.3 L226.1 135.4 L228 140 L230.1 145.4 L232.5 151.4 L235 157.7 L237.5 164 L240 170 L242.4 175.8 L244.8 181.4 L247.2 187 L249.6 192.6 L252 198 L254.5 203.4 L257 208.8 L259.5 214.1 L261.9 219.2 L264 224 L265.8 228.5 L267.4 232.7 L268.9 236.8 L270.4 240.8 L272 245 L273.8 249.3 L275.6 253.7 L277.4 258.2 L279.2 262.6 L281 267 L282.7 271.4 L284.3 275.9 L285.9 280.3 L287.5 284.7 L289 289 L290.5 293.1 L291.9 297.1 L293.2 301 L294.6 305 L296 309 L297.5 313.2 L299 317.4 L300.5 321.6 L301.9 325.8 L303 330 L303.9 334.4 L304.6 339 L305.2 343.5 L305.7 347.3 L306 350"/>
<path d="M227 119 L227.7 121.2 L228.7 124.4 L229.9 127.9 L231 131.3 L232 134 L232.6 135.4 L232.9 135.9 L233.2 136.3 L233.9 137.4 L235 140 L236.8 144.5 L239.2 150.4 L241.8 157 L244.5 163.7 L247 170 L249.4 175.8 L251.8 181.5 L254.3 187.2 L256.7 192.7 L259 198 L261.3 203.1 L263.6 207.9 L265.8 212.7 L267.9 217.3 L270 222 L271.9 226.7 L273.7 231.4 L275.5 236.1 L277.2 240.6 L279 245 L280.8 249.1 L282.6 253 L284.4 256.9 L286.2 260.8 L288 265 L289.8 269.7 L291.7 274.7 L293.6 279.8 L295.4 284.6 L297 289 L298.4 292.8 L299.8 296.4 L301 299.6 L302 302.4 L303 305 L303.8 307.2 L304.6 309.2 L305.2 310.8 L305.6 312 L306 313"/>
<path d="M233 132 L233.2 132.7 L233.5 133.5 L233.9 134.7 L234.7 136.7 L236 140 L238 144.9 L240.5 151.3 L243.3 158.3 L246.2 165.5 L249 172 L251.6 177.9 L254.2 183.6 L256.9 189.2 L259.5 194.7 L262 200 L264.5 205.2 L267 210.4 L269.5 215.4 L271.8 220.2 L274 225 L276 229.6 L277.8 234 L279.5 238.3 L281.2 242.6 L283 247 L284.8 251.4 L286.6 255.9 L288.5 260.3 L290.3 264.7 L292 269 L293.7 273.2 L295.4 277.3 L297 281.4 L298.5 285.3 L300 289 L301.4 292.6 L302.7 296.1 L303.9 299.4 L305 302.4 L306 305 L306.8 307.2 L307.6 309.2 L308.2 310.8 L308.6 312 L309 313"/>
<path d="M222 85 L222.6 87.3 L223.5 90.4 L224.6 94.2 L225.8 98.1 L227 102 L228.3 105.8 L229.7 109.9 L231.1 114 L232.6 118.1 L234 122 L235.3 125.6 L236.6 128.9 L237.8 132.2 L239.3 135.8 L241 140 L243.1 145 L245.4 150.6 L248 156.5 L250.5 162.4 L253 168 L255.4 173.2 L257.7 178.3 L260 183.3 L262.4 188.5 L265 194 L267.9 200 L271 206.5 L274.2 213 L277.3 219.3 L280 225 L282.3 230 L284.4 234.5 L286.2 238.8 L288.1 242.9 L290 247 L292 251.2 L294.1 255.3 L296.1 259.4 L298.1 263.3 L300 267 L301.8 270.6 L303.6 274.2 L305.3 277.5 L306.8 280.5 L308 283 L308.8 284.9 L309.3 286.4 L309.6 287.5 L309.8 288.3 L310 289"/>
<path d="M228 64 L228.2 66.7 L228.5 70.5 L228.9 74.9 L229.4 79.6 L230 84 L230.8 88.3 L231.7 92.7 L232.7 97.1 L233.8 101.6 L235 106 L236.3 110.6 L237.8 115.3 L239.2 119.9 L240.7 124.2 L242 128 L243 130.8 L243.8 132.8 L244.6 134.7 L245.6 136.9 L247 140 L248.9 144.3 L251.2 149.3 L253.7 154.8 L256.4 160.4 L259 166 L261.7 171.5 L264.5 177.2 L267.4 182.8 L270.2 188.5 L273 194 L275.7 199.3 L278.4 204.6 L281.1 209.8 L283.6 214.9 L286 220 L288.2 225.2 L290.2 230.4 L292.1 235.6 L294 240.5 L296 245 L298 249.1 L300 252.8 L302.1 256.3 L304.1 259.6 L306 263 L308 266.5 L310 270 L312 273.4 L313.7 276.5 L315 279 L315.9 280.9 L316.4 282.4 L316.7 283.5 L316.8 284.3 L317 285"/>
<path d="M232 94 L232.7 96.4 L233.6 99.9 L234.7 103.9 L235.9 108.1 L237 112 L238.2 115.7 L239.4 119.6 L240.6 123.4 L241.8 126.9 L243 130 L243.9 132.3 L244.6 133.8 L245.4 135.2 L246.4 137.1 L248 140 L250.2 144.1 L252.9 149.2 L255.9 154.7 L259 160.4 L262 166 L265 171.6 L268 177.3 L271.1 183.1 L274.1 188.8 L277 194 L279.8 199 L282.7 203.9 L285.4 208.4 L287.9 212.5 L290 216 L291.6 218.5 L292.7 220.1 L293.6 221.4 L294.7 222.8 L296 225 L297.7 228.1 L299.7 231.6 L301.8 235.5 L303.9 239.4 L306 243 L308 246.4 L310 249.7 L312 253 L314 256.1 L316 259 L318.2 261.8 L320.5 264.7 L322.7 267.3 L324.6 269.4 L326 271"/>
<path d="M250 120 L250.7 122.7 L251.7 126.5 L253 130.9 L254.4 135.6 L256 140 L257.8 144.2 L259.9 148.5 L262.2 152.8 L264.6 157.3 L267 162 L269.5 167 L272.1 172.3 L274.8 177.7 L277.4 183 L280 188 L282.5 192.8 L285.1 197.4 L287.5 201.9 L289.9 206.1 L292 210 L293.8 213.4 L295.4 216.3 L296.9 219 L298.4 221.8 L300 225 L301.8 228.7 L303.6 232.8 L305.5 237 L307.3 241.2 L309 245 L310.6 248.7 L312.3 252.5 L313.8 255.9 L315.1 258.9 L316 261"/>
<path d="M244 165 L245.3 169.1 L247.2 174.8 L249.4 181.6 L251.7 188.5 L254 195 L256.3 201.1 L258.8 207.2 L261.2 213.4 L263.7 219.3 L266 225 L268.1 230.3 L270.1 235.4 L272.1 240.2 L274 245.1 L276 250 L278 255 L280 260 L282.1 265 L284.1 270 L286 275 L287.9 280.1 L289.9 285.3 L291.7 290.5 L293.5 295.4 L295 300 L296.3 304.3 L297.5 308.6 L298.6 312.4 L299.4 315.7 L300 318"/>
<path d="M238 175 L239.2 178.3 L240.9 183 L242.8 188.4 L244.9 194.3 L247 200 L249.1 205.7 L251.3 211.7 L253.6 217.9 L255.8 224 L258 230 L260.1 235.7 L262.1 241.4 L264 247 L266 252.5 L268 258 L270 263.5 L272.1 269.1 L274.1 274.5 L276.1 279.9 L278 285 L279.8 290 L281.4 294.8 L283 299.4 L284.6 303.8 L286 308 L287.4 312.1 L288.8 316 L290.1 319.7 L291.2 322.8 L292 325"/>
<path d="M262 190 L263.6 193.9 L266 199.3 L268.7 205.7 L271.5 212.1 L274 218 L276.3 223.2 L278.5 228.4 L280.6 233.4 L282.8 238.2 L285 243 L287.2 247.7 L289.5 252.2 L291.8 256.6 L294 260.9 L296 265 L297.9 269.1 L299.8 273.4 L301.5 277.3 L303 280.6 L304 283"/>
<path d="M226 150 L227.4 154.1 L229.3 159.9 L231.5 166.7 L233.8 173.6 L236 180 L238 185.7 L240 191.3 L242 196.9 L244 202.4 L246 208 L248 213.6 L250 219.3 L252 224.9 L254 230.5 L256 236 L258 241.3 L260 246.5 L262 251.7 L264 256.8 L266 262 L268 267.3 L270.1 272.6 L272.1 277.9 L274.1 283.1 L276 288 L277.8 292.7 L279.4 297.2 L281 301.5 L282.6 305.8 L284 310 L285.3 314.2 L286.4 318.4 L287.6 322.5 L288.7 326.4 L290 330 L291.6 333.6 L293.4 337.1 L295.3 340.3 L296.9 343 L298 345"/>
<path d="M270 220 L271.6 223.4 L273.9 228.3 L276.6 233.9 L279.4 239.7 L282 245 L284.4 249.7 L286.9 254.4 L289.3 259 L291.7 263.5 L294 268 L296.1 272.5 L298.2 277 L300.2 281.4 L302.1 285.7 L304 290 L305.9 294.3 L307.7 298.5 L309.4 302.7 L311.2 306.5 L313 310 L314.9 313.1 L317 316 L319 318.4 L320.8 320.5 L322 322"/>
<path d="M258 215 L259.3 218.4 L261.2 223.2 L263.4 228.8 L265.8 234.6 L268 240 L270.1 245 L272.3 250 L274.6 255 L276.8 260 L279 265 L281.2 270 L283.4 275.1 L285.7 280.2 L287.9 285.2 L290 290 L292.1 294.7 L294.1 299.2 L296 303.6 L298 307.9 L300 312 L302.1 316.1 L304.2 320.1 L306.4 323.9 L308.3 327.3 L310 330 L311.4 331.9 L312.6 333.2 L313.6 334 L314.4 334.5 L315 335"/>
<path d="M151 193 L151.6 194.8 L152.3 197.3 L153.3 200.3 L154.5 203.9 L156 208 L158 212.9 L160.5 218.8 L163.2 225 L165.8 230.9 L168 236 L169.8 240.3 L171.4 244.1 L172.7 247.4 L173.9 250.4 L175 253 L175.9 255 L176.6 256.5 L177.1 257.6 L177.6 258.7 L178 260 L178.5 261.5 L179.1 263 L179.5 264.6 L179.8 266.3 L179.6 268 L179 269.8 L177.9 271.8 L176.7 273.8 L175.3 275.8 L174 278 L172.7 280.3 L171.2 282.6 L169.7 285 L168.3 287.5 L167 290 L165.9 292.5 L165 294.9 L164.2 297.5 L163.2 300.1 L162 303 L160.4 306.3 L158.5 309.8 L156.5 313.5 L154.6 317 L153 320 L151.7 322.5 L150.6 324.7 L149.6 326.6 L148.7 328.4 L148 330 L147.4 331.6 L146.9 333 L146.5 334.2 L146.2 335.2 L146 336"/>
<path d="M150 180 L150.5 181.8 L151.2 184.4 L152.1 187.4 L153 190.7 L154 194 L155 197.2 L156 200.6 L157.1 204.2 L158.4 208 L160 212 L161.9 216.4 L164.1 221.3 L166.5 226.3 L168.8 231.2 L171 236 L173 240.7 L174.9 245.4 L176.8 250 L178.5 254.3 L180 258 L181.4 261.1 L182.6 263.6 L183.7 265.8 L184.5 267.9 L185 270 L185.1 272.1 L184.8 274 L184.4 276 L183.7 277.9 L183 280 L182.2 282.3 L181.2 284.7 L180.1 287.2 L179 289.6 L178 292 L177.1 294 L176.4 295.7 L175.6 297.5 L174.5 299.8 L173 303 L170.8 307.5 L168.1 313 L165.2 319 L162.3 324.9 L160 330 L158.3 334.3 L156.9 338.3 L155.7 341.9 L154.5 345.5 L153 349 L151 352.8 L148.7 356.8 L146.4 360.5 L144.4 363.7 L143 366"/>
<path d="M147 161 L147.7 163.5 L148.6 167.1 L149.7 171.3 L150.9 175.7 L152 180 L153.1 184.3 L154.3 188.8 L155.6 193.3 L156.8 197.8 L158 202 L159.1 205.9 L160.2 209.5 L161.3 213 L162.5 216.5 L164 220 L165.8 223.6 L167.8 227.1 L170 230.7 L172.1 234.3 L174 238 L175.8 242 L177.5 246.2 L179.1 250.5 L180.6 254.5 L182 258 L183.3 260.9 L184.5 263.5 L185.6 265.7 L186.4 267.9 L187 270 L187.2 272.1 L187.2 274 L186.9 276 L186.5 277.9 L186 280 L185.4 282.3 L184.6 284.7 L183.7 287.2 L182.8 289.6 L182 292 L181.3 294 L180.8 295.7 L180.2 297.5 L179.4 299.8 L178 303 L176 307.2 L173.4 312.3 L170.6 317.9 L167.7 323.8 L165 330 L162.4 336.5 L159.8 343.6 L157.1 350.8 L154.5 358.1 L152 365 L149.3 372.1 L146.6 379.6 L143.9 386.6 L141.6 392.7 L140 397"/>
<path d="M156 167 L156.7 169.3 L157.6 172.4 L158.7 176.2 L159.9 180.1 L161 184 L162.1 187.8 L163.3 191.8 L164.6 195.9 L165.8 200 L167 204 L168.2 208.2 L169.4 212.5 L170.7 216.7 L171.9 220.6 L173 224 L174 226.5 L175 228.2 L175.9 229.8 L176.9 231.5 L178 234 L179.3 237.4 L180.7 241.5 L182.2 245.8 L183.6 250.1 L185 254 L186.4 257.6 L187.8 261 L189.1 264.2 L190.2 267.2 L191 270 L191.4 272.4 L191.6 274.3 L191.5 276.1 L191.3 278 L191 280 L190.6 282.3 L190.1 284.7 L189.4 287.2 L188.7 289.6 L188 292 L187.4 294 L186.8 295.7 L186.2 297.5 L185.3 299.8 L184 303 L182.3 307.4 L180.2 312.6 L177.8 318.4 L175.4 324.3 L173 330 L170.7 335.4 L168.3 340.8 L165.8 346.3 L163.4 351.7 L161 357 L158.4 362.7 L155.6 368.7 L152.9 374.5 L150.6 379.5 L149 383"/>
<path d="M171 212 L171.5 213.9 L172.3 216.7 L173.1 219.9 L174.1 223.1 L175 226 L175.9 228.4 L176.8 230.7 L177.7 232.9 L178.8 235.2 L180 238 L181.5 241.3 L183.1 245 L184.9 248.8 L186.5 252.6 L188 256 L189.3 259.1 L190.4 262 L191.4 264.7 L192.3 267.4 L193 270 L193.5 272.5 L193.8 274.9 L194 277.3 L194.1 279.6 L194 282 L193.8 284.4 L193.5 286.9 L193 289.4 L192.5 291.8 L192 294 L191.6 295.7 L191.4 297 L191 298.2 L190.3 300.1 L189 303 L186.8 307.1 L184 312.2 L180.8 317.8 L177.7 323.9 L175 330 L172.7 336.4 L170.7 343.1 L168.8 350.1 L166.9 357.1 L165 364 L162.8 371.3 L160.5 379.2 L158.3 386.8 L156.4 393.4 L155 398"/>
<path d="M179 187 L179.4 188.7 L179.9 191.1 L180.6 194 L181.3 197 L182 200 L182.7 203 L183.5 206.3 L184.3 209.6 L185.1 212.9 L186 216 L186.9 218.8 L187.9 221.3 L188.9 223.8 L189.9 226.6 L191 230 L192.2 234.3 L193.4 239.3 L194.7 244.5 L195.9 249.6 L197 254 L198 257.8 L198.9 261.3 L199.7 264.4 L200.4 267.3 L201 270 L201.5 272.3 L201.8 274.2 L202 276 L202.1 277.8 L202 280 L201.7 282.6 L201.1 285.6 L200.5 288.6 L199.7 291.5 L199 294 L198.4 295.8 L197.9 297.1 L197.3 298.3 L196.4 300.1 L195 303 L193 307.4 L190.4 312.9 L187.6 318.9 L184.7 324.8 L182 330 L179.5 334.3 L177.1 338.2 L174.8 341.9 L172.4 345.4 L170 349 L167.4 353 L164.6 357.1 L161.9 361.1 L159.6 364.6 L158 367"/>
<path d="M195 204 L195.6 206 L196.4 208.9 L197.4 212.2 L198.3 215.4 L199 218 L199.5 219.8 L199.9 221.1 L200.2 222.2 L200.6 223.7 L201 226 L201.5 229.2 L202.1 233.1 L202.7 237.4 L203.3 241.8 L204 246 L204.8 250.1 L205.7 254.4 L206.6 258.6 L207.4 262.5 L208 266 L208.5 268.8 L208.8 271.2 L209 273.3 L209.1 275.5 L209 278 L208.6 281.1 L208 284.4 L207.3 287.9 L206.6 291.2 L206 294 L205.7 296 L205.7 297.2 L205.5 298.4 L205.1 300.2 L204 303 L202.1 307.1 L199.4 312.2 L196.5 317.8 L193.6 323.9 L191 330 L188.8 336.4 L186.8 343.1 L184.9 350.1 L183 357.1 L181 364 L178.8 371.3 L176.5 379.2 L174.3 386.8 L172.4 393.4 L171 398"/>
<path d="M202 245 L202.1 247 L202.3 249.9 L202.5 253.2 L202.7 256.7 L203 260 L203.4 263.2 L203.9 266.4 L204.4 269.7 L204.8 272.9 L205 276 L205 278.9 L205 281.8 L204.8 284.6 L204.4 287.3 L204 290 L203.6 292.4 L203.1 294.6 L202.5 296.8 L201.6 299.5 L200 303 L197.6 307.5 L194.6 312.8 L191.2 318.5 L187.9 324.4 L185 330 L182.7 335.4 L180.6 340.8 L178.8 346.3 L176.9 351.7 L175 357 L172.8 362.7 L170.5 368.7 L168.3 374.5 L166.4 379.5 L165 383"/>
<path d="M199 204 L199.6 205.9 L200.4 208.7 L201.4 211.9 L202.3 215.1 L203 218 L203.5 220.4 L203.8 222.6 L204.1 224.7 L204.4 227.1 L205 230 L205.8 233.5 L206.9 237.4 L208 241.6 L209.1 245.9 L210 250 L210.8 254.1 L211.5 258.2 L212.2 262.3 L212.7 266.3 L213 270 L213.1 273.5 L213 276.9 L212.7 280.1 L212.4 283.1 L212 286 L211.5 288.8 L210.9 291.4 L210.2 293.9 L209.6 296.1 L209 298 L208.7 299.1 L208.7 299.4 L208.5 299.8 L208.1 300.7 L207 303 L205 307 L202.3 312.4 L199.3 318.4 L196.4 324.4 L194 330 L192.2 335 L190.8 339.9 L189.5 344.6 L188.3 349.3 L187 354 L185.5 359 L183.9 364.4 L182.3 369.5 L181 373.9 L180 377"/>
<path d="M197 185 L197.5 187 L198.3 189.9 L199.1 193.2 L200.1 196.7 L201 200 L201.9 203.2 L202.9 206.4 L203.9 209.7 L204.9 212.9 L206 216 L207.2 218.8 L208.4 221.5 L209.6 224.1 L210.8 226.8 L212 230 L213.1 233.7 L214.2 237.8 L215.3 242 L216.2 246.2 L217 250 L217.6 253.5 L218.2 256.7 L218.6 259.8 L218.8 262.9 L219 266 L219 269.2 L219 272.5 L218.8 275.7 L218.4 278.9 L218 282 L217.4 285 L216.6 288.1 L215.7 291 L214.8 293.7 L214 296 L213.4 297.5 L213 298.3 L212.6 299.1 L212 300.4 L211 303 L209.6 307 L208 311.9 L206.2 317.5 L204.2 323.6 L202 330 L199.4 337.4 L196.5 345.9 L193.5 354.4 L190.8 361.8 L189 367"/>
<path d="M209 250 L209.3 252.2 L209.8 255.3 L210.3 259 L210.8 262.7 L211 266 L211 268.8 L211 271.5 L210.8 274.1 L210.4 276.8 L210 280 L209.4 283.6 L208.7 287.7 L207.9 291.9 L207 296 L206 300 L204.8 304 L203.5 308.2 L202.1 312.2 L200.8 315.6 L200 318"/>
<path d="M233 256 L232.8 257.9 L232.5 260.5 L232.1 263.6 L231.6 266.8 L231 270 L230.2 273.1 L229.3 276.4 L228.2 279.8 L227.1 283 L226 286 L224.8 288.8 L223.5 291.4 L222.2 293.9 L221 296.1 L220 298 L219.4 299.1 L219 299.4 L218.7 299.8 L218.1 300.7 L217 303 L215.1 306.9 L212.8 311.8 L210.1 317.6 L207.4 323.7 L205 330 L202.9 336.5 L200.9 343.5 L198.9 350.7 L197 357.9 L195 365 L192.8 372.4 L190.5 380.3 L188.3 387.9 L186.4 394.4 L185 399"/>
<path d="M224 290 L224.2 290.8 L224.5 291.9 L224.8 293.2 L225 294.6 L225 296 L224.8 297 L224.5 297.8 L224.1 298.7 L223.6 300.3 L223 303 L222.4 307.3 L221.6 313 L220.8 319.2 L220 325.1 L219 330 L218 333.7 L216.8 336.6 L215.6 339.2 L214.4 341.5 L213 344 L211.4 346.7 L209.6 349.5 L207.7 352.2 L206.1 354.4 L205 356"/>
<path d="M175 234 L175.7 235.6 L176.7 237.9 L177.8 240.6 L179 243.4 L180 246 L180.8 248.4 L181.6 250.7 L182.4 253.1 L183.2 255.5 L184 258 L185 260.7 L186.2 263.6 L187.3 266.4 L188.3 269.3 L189 272 L189.4 274.5 L189.6 276.8 L189.5 279.2 L189.3 281.5 L189 284 L188.5 286.5 L187.9 289.1 L187.2 291.7 L186.2 294.7 L185 298 L183.5 302 L181.6 306.4 L179.6 311.1 L177.7 315.7 L176 320 L174.5 324.1 L173.1 328.4 L171.8 332.3 L170.8 335.6 L170 338"/>
</g>
<rect x="76.4" y="46.4" width="314.1" height="404.7" fill="none" stroke="#7a7a7a" stroke-width="0.8"/>
<g stroke="#808080" stroke-width="0.8">
<line x1="90.4" y1="37.9" x2="90.4" y2="46.4"/>
<line x1="128.1" y1="37.9" x2="128.1" y2="46.4"/>
<line x1="165.9" y1="37.9" x2="165.9" y2="46.4"/>
<line x1="203.6" y1="37.9" x2="203.6" y2="46.4"/>
<line x1="241.4" y1="37.9" x2="241.4" y2="46.4"/>
<line x1="279.1" y1="37.9" x2="279.1" y2="46.4"/>
<line x1="316.6" y1="37.9" x2="316.6" y2="46.4"/>
<line x1="354.4" y1="37.9" x2="354.4" y2="46.4"/>
<line x1="100.5" y1="451.1" x2="100.5" y2="459.6"/>
<line x1="148.5" y1="451.1" x2="148.5" y2="459.6"/>
<line x1="197" y1="451.1" x2="197" y2="459.6"/>
<line x1="245.6" y1="451.1" x2="245.6" y2="459.6"/>
<line x1="294.4" y1="451.1" x2="294.4" y2="459.6"/>
<line x1="342.4" y1="451.1" x2="342.4" y2="459.6"/>
<line x1="67.9" y1="61.5" x2="76.4" y2="61.5"/>
<line x1="67.9" y1="131.1" x2="76.4" y2="131.1"/>
<line x1="67.9" y1="200.8" x2="76.4" y2="200.8"/>
<line x1="67.9" y1="270.4" x2="76.4" y2="270.4"/>
<line x1="67.9" y1="340.1" x2="76.4" y2="340.1"/>
<line x1="67.9" y1="409.7" x2="76.4" y2="409.7"/>
<line x1="390.5" y1="60.4" x2="399" y2="60.4"/>
<line x1="390.5" y1="129.6" x2="399" y2="129.6"/>
<line x1="390.5" y1="199.4" x2="399" y2="199.4"/>
<line x1="390.5" y1="269.4" x2="399" y2="269.4"/>
<line x1="390.5" y1="339" x2="399" y2="339"/>
<line x1="390.5" y1="408" x2="399" y2="408"/>
</g>
<text x="90.5" y="21.5" font-size="21.8" text-anchor="middle">16°E</text>
<text x="166" y="21.5" font-size="21.8" text-anchor="middle">20°E</text>
<text x="241.7" y="21.5" font-size="21.8" text-anchor="middle">24°E</text>
<text x="317" y="21.5" font-size="21.8" text-anchor="middle">28°E</text>
<text x="3.6" y="68.8" font-size="22.3">56°N</text>
<text x="3.6" y="138.8" font-size="22.3">54°N</text>
<text x="3.6" y="208.8" font-size="22.3">52°N</text>
<text x="3.6" y="278.3" font-size="22.3">50°N</text>
<text x="3.6" y="347.8" font-size="22.3">48°N</text>
<text x="3.6" y="417.8" font-size="22.3">46°N</text>
<rect x="405" y="51.60" width="29.2" height="21.06" fill="#d62629"/>
<rect x="405" y="72.36" width="29.2" height="21.06" fill="#e03b28"/>
<rect x="405" y="93.13" width="29.2" height="21.06" fill="#e8532a"/>
<rect x="405" y="113.89" width="29.2" height="21.06" fill="#f0622a"/>
<rect x="405" y="134.65" width="29.2" height="21.06" fill="#f58231"/>
<rect x="405" y="155.42" width="29.2" height="21.06" fill="#f5a33c"/>
<rect x="405" y="176.18" width="29.2" height="21.06" fill="#f9c74a"/>
<rect x="405" y="196.94" width="29.2" height="21.06" fill="#f7de55"/>
<rect x="405" y="217.71" width="29.2" height="21.06" fill="#f3e95c"/>
<rect x="405" y="238.47" width="29.2" height="21.06" fill="#ffffff"/>
<rect x="405" y="259.23" width="29.2" height="21.06" fill="#e8f5fc"/>
<rect x="405" y="279.99" width="29.2" height="21.06" fill="#cdecf9"/>
<rect x="405" y="300.76" width="29.2" height="21.06" fill="#b3e1f7"/>
<rect x="405" y="321.52" width="29.2" height="21.06" fill="#93d3f3"/>
<rect x="405" y="342.28" width="29.2" height="21.06" fill="#7fc0e8"/>
<rect x="405" y="363.05" width="29.2" height="21.06" fill="#68a9dc"/>
<rect x="405" y="383.81" width="29.2" height="21.06" fill="#5095d0"/>
<rect x="405" y="404.57" width="29.2" height="21.06" fill="#468bc4"/>
<rect x="405" y="425.34" width="29.2" height="20.76" fill="#4693b4"/>
<g stroke="#000" stroke-opacity="0.5" stroke-width="0.7">
<line x1="405" y1="72.36" x2="434.2" y2="72.36"/>
<line x1="405" y1="93.13" x2="434.2" y2="93.13"/>
<line x1="405" y1="113.89" x2="434.2" y2="113.89"/>
<line x1="405" y1="134.65" x2="434.2" y2="134.65"/>
<line x1="405" y1="155.42" x2="434.2" y2="155.42"/>
<line x1="405" y1="176.18" x2="434.2" y2="176.18"/>
<line x1="405" y1="196.94" x2="434.2" y2="196.94"/>
<line x1="405" y1="217.71" x2="434.2" y2="217.71"/>
<line x1="405" y1="238.47" x2="434.2" y2="238.47"/>
<line x1="405" y1="259.23" x2="434.2" y2="259.23"/>
<line x1="405" y1="279.99" x2="434.2" y2="279.99"/>
<line x1="405" y1="300.76" x2="434.2" y2="300.76"/>
<line x1="405" y1="321.52" x2="434.2" y2="321.52"/>
<line x1="405" y1="342.28" x2="434.2" y2="342.28"/>
<line x1="405" y1="363.05" x2="434.2" y2="363.05"/>
<line x1="405" y1="383.81" x2="434.2" y2="383.81"/>
<line x1="405" y1="404.57" x2="434.2" y2="404.57"/>
<line x1="405" y1="425.34" x2="434.2" y2="425.34"/>
</g>
<rect x="405" y="51.6" width="29.2" height="394.5" fill="none" stroke="#000" stroke-opacity="0.25" stroke-width="0.5"/>
<text x="469.3" y="101.73" font-size="23.5" text-anchor="middle">2.85</text>
<text x="469.3" y="143.25" font-size="23.5" text-anchor="middle">2.05</text>
<text x="469.3" y="184.78" font-size="23.5" text-anchor="middle">1.25</text>
<text x="469.3" y="226.31" font-size="23.5" text-anchor="middle">0.45</text>
<text x="469.3" y="288.59" font-size="23.5" text-anchor="middle">-0.45</text>
<text x="469.3" y="330.12" font-size="23.5" text-anchor="middle">-1.25</text>
<text x="469.3" y="371.65" font-size="23.5" text-anchor="middle">-2.05</text>
<text x="469.3" y="413.17" font-size="23.5" text-anchor="middle">-2.85</text>
</svg>
</body></html>
